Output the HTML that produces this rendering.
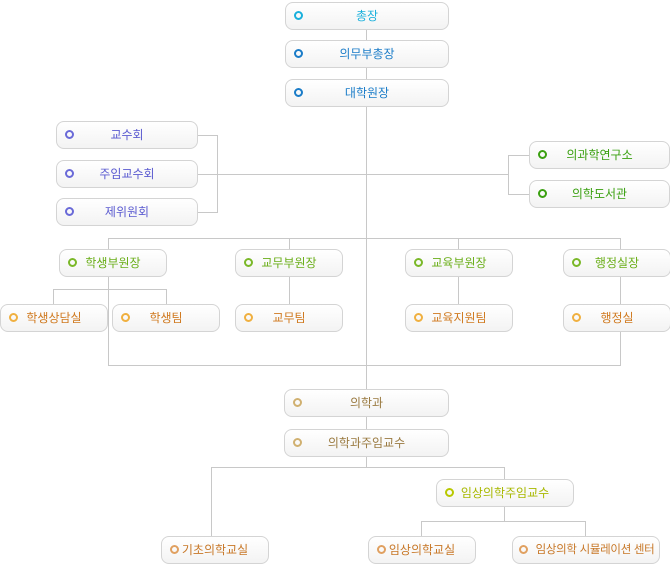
<!DOCTYPE html>
<html><head><meta charset="utf-8"><style>
body{margin:0;width:670px;height:565px;background:#fff;position:relative;overflow:hidden;font-family:"Liberation Sans","Noto Sans CJK KR","NanumGothic",sans-serif}
.b{position:absolute;height:26px;border:1px solid #d4d4d4;border-radius:8px;background:linear-gradient(#fff,#f3f3f3);box-sizing:content-box;font-size:12px;line-height:26px;text-align:center}
.b i{position:absolute;left:8px;top:8px;width:5px;height:5px;border:2px solid;border-radius:50%}
.l{position:absolute;background:#c8c8c8}
</style></head><body>
<div class="l" style="left:366px;top:30px;width:1px;height:360px"></div>
<div class="l" style="left:366px;top:417px;width:1px;height:12px"></div>
<div class="l" style="left:197px;top:135px;width:20px;height:1px"></div>
<div class="l" style="left:197px;top:212px;width:20px;height:1px"></div>
<div class="l" style="left:217px;top:135px;width:1px;height:78px"></div>
<div class="l" style="left:197px;top:174px;width:311px;height:1px"></div>
<div class="l" style="left:508px;top:155px;width:1px;height:40px"></div>
<div class="l" style="left:508px;top:155px;width:21px;height:1px"></div>
<div class="l" style="left:508px;top:194px;width:21px;height:1px"></div>
<div class="l" style="left:108px;top:238px;width:513px;height:1px"></div>
<div class="l" style="left:108px;top:238px;width:1px;height:128px"></div>
<div class="l" style="left:289px;top:238px;width:1px;height:67px"></div>
<div class="l" style="left:458px;top:238px;width:1px;height:67px"></div>
<div class="l" style="left:620px;top:238px;width:1px;height:67px"></div>
<div class="l" style="left:620px;top:332px;width:1px;height:34px"></div>
<div class="l" style="left:108px;top:365px;width:513px;height:1px"></div>
<div class="l" style="left:53px;top:289px;width:114px;height:1px"></div>
<div class="l" style="left:53px;top:289px;width:1px;height:16px"></div>
<div class="l" style="left:166px;top:289px;width:1px;height:16px"></div>
<div class="l" style="left:366px;top:457px;width:1px;height:10px"></div>
<div class="l" style="left:211px;top:467px;width:294px;height:1px"></div>
<div class="l" style="left:211px;top:467px;width:1px;height:70px"></div>
<div class="l" style="left:504px;top:467px;width:1px;height:13px"></div>
<div class="l" style="left:504px;top:507px;width:1px;height:14px"></div>
<div class="l" style="left:421px;top:521px;width:165px;height:1px"></div>
<div class="l" style="left:421px;top:521px;width:1px;height:16px"></div>
<div class="l" style="left:585px;top:521px;width:1px;height:16px"></div>
<div class="b" style="left:285px;top:2px;width:162px;color:#1ab0dc"><i style="border-color:#1ab0dc"></i>총장</div>
<div class="b" style="left:285px;top:40px;width:162px;color:#1a7cc8"><i style="border-color:#1a7cc8"></i>의무부총장</div>
<div class="b" style="left:285px;top:79px;width:162px;color:#1a7cc8"><i style="border-color:#1a7cc8"></i>대학원장</div>
<div class="b" style="left:56px;top:121px;width:140px;color:#5a5ad0"><i style="border-color:#6a6ad8"></i>교수회</div>
<div class="b" style="left:56px;top:160px;width:140px;color:#5a5ad0"><i style="border-color:#6a6ad8"></i>주임교수회</div>
<div class="b" style="left:56px;top:198px;width:140px;color:#5a5ad0"><i style="border-color:#6a6ad8"></i>제위원회</div>
<div class="b" style="left:529px;top:141px;width:139px;color:#3aa010"><i style="border-color:#3aa010"></i>의과학연구소</div>
<div class="b" style="left:529px;top:180px;width:139px;color:#3aa010"><i style="border-color:#3aa010"></i>의학도서관</div>
<div class="b" style="left:59px;top:249px;width:106px;color:#6aae18"><i style="border-color:#7ab828"></i>학생부원장</div>
<div class="b" style="left:235px;top:249px;width:106px;color:#6aae18"><i style="border-color:#7ab828"></i>교무부원장</div>
<div class="b" style="left:405px;top:249px;width:106px;color:#6aae18"><i style="border-color:#7ab828"></i>교육부원장</div>
<div class="b" style="left:563px;top:249px;width:106px;color:#6aae18"><i style="border-color:#7ab828"></i>행정실장</div>
<div class="b" style="left:0px;top:304px;width:106px;color:#d07a20"><i style="border-color:#f0b040"></i>학생상담실</div>
<div class="b" style="left:112px;top:304px;width:106px;color:#d07a20"><i style="border-color:#f0b040"></i>학생팀</div>
<div class="b" style="left:235px;top:304px;width:106px;color:#d07a20"><i style="border-color:#f0b040"></i>교무팀</div>
<div class="b" style="left:405px;top:304px;width:106px;color:#d07a20"><i style="border-color:#f0b040"></i>교육지원팀</div>
<div class="b" style="left:563px;top:304px;width:106px;color:#d07a20"><i style="border-color:#f0b040"></i>행정실</div>
<div class="b" style="left:284px;top:389px;width:163px;color:#9a7a40"><i style="border-color:#d0b070"></i>의학과</div>
<div class="b" style="left:284px;top:429px;width:163px;color:#9a7a40"><i style="border-color:#d0b070"></i>의학과주임교수</div>
<div class="b" style="left:436px;top:479px;width:136px;color:#a8b800"><i style="border-color:#b8c800"></i>임상의학주임교수</div>
<div class="b" style="left:161px;top:536px;width:106px;color:#c87828"><i style="border-color:#e0a060"></i>기초의학교실</div>
<div class="b" style="left:368px;top:536px;width:106px;color:#c87828"><i style="border-color:#e0a060"></i>임상의학교실</div>
<div class="b" style="left:512px;top:536px;width:128px;padding-left:18px;color:#c87828;font-size:11.5px;letter-spacing:-0.3px"><i style="border-color:#e0a060;left:6px"></i>임상의학 시뮬레이션 센터</div>
</body></html>
